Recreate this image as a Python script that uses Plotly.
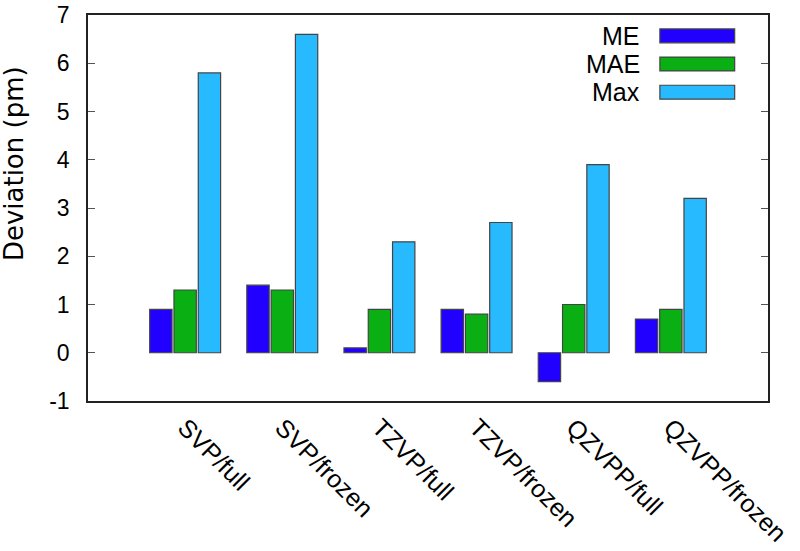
import plotly.graph_objects as go

categories = ["SVP/full", "SVP/frozen", "TZVP/full", "TZVP/frozen", "QZVPP/full", "QZVPP/frozen"]
series_names = ["ME", "MAE", "Max"]
me_values = [0.9, 1.4, 0.1, 0.9, -0.6, 0.7]
mae_values = [1.3, 1.3, 0.9, 0.8, 1.0, 0.9]
max_values = [5.8, 6.6, 2.3, 2.7, 3.9, 3.2]
y_ticks = [-1, 0, 1, 2, 3, 4, 5, 6, 7]
y_tick_labels = ["-1", "0", "1", "2", "3", "4", "5", "6", "7"]
y_title = "Deviation (pm)"

colors = ["#2200ff", "#0aaf14", "#28baff"]
FONT = "Liberation Sans, Arial, sans-serif"
FS = 23

x_pos = list(range(len(categories)))
fig = go.Figure()
for name, vals, col in zip(series_names, [me_values, mae_values, max_values], colors):
    fig.add_trace(go.Bar(
        x=x_pos, y=vals, name=name,
        marker=dict(color=col, line=dict(color="#444444", width=1.2)),
        showlegend=False,
    ))

# custom legend (text right-aligned, swatch on the right, gnuplot style)
leg_y = [0.946, 0.873, 0.800]
for name, col, yy in zip(series_names, colors, leg_y):
    fig.add_annotation(xref="paper", yref="paper", x=0.815, y=yy, text=name,
                       showarrow=False, xanchor="right", yanchor="middle",
                       font=dict(family=FONT, size=25, color="black"))
    fig.add_shape(type="rect", xref="paper", yref="paper",
                  x0=0.841, x1=0.951, y0=yy - 0.018, y1=yy + 0.018,
                  fillcolor=col, line=dict(color="#444444", width=1.2))

# y-axis title
fig.add_annotation(xref="paper", yref="paper", x=-0.109, y=0.616, text=y_title,
                   textangle=-90, showarrow=False, xanchor="center", yanchor="middle",
                   font=dict(family="DejaVu Sans, sans-serif", size=26, color="black"))

fig.update_layout(
    barmode="group", bargap=0.25, bargroupgap=0.08,
    width=800, height=551,
    margin=dict(l=88, r=32, t=15, b=150, autoexpand=False),
    plot_bgcolor="white", paper_bgcolor="white",
    font=dict(family=FONT, size=FS, color="black"),
)
fig.update_xaxes(
    range=[-1, 6], tickmode="array", tickvals=x_pos, ticktext=categories,
    tickangle=45, showline=True, mirror=True, linecolor="#222222", linewidth=2,
    ticks="", showgrid=False, zeroline=False, automargin=False,
    tickfont=dict(family=FONT, size=25),
)
fig.update_yaxes(
    range=[-1, 7], tickmode="array", tickvals=y_ticks, ticktext=y_tick_labels,
    ticks="inside", ticklen=7, tickcolor="#555555", tickwidth=1.2,
    showline=True, mirror="ticks", linecolor="#222222", linewidth=1.5,
    showgrid=False, zeroline=False, ticklabelstandoff=12, automargin=False,
    ticklabeloverflow="allow",
    tickfont=dict(family=FONT, size=FS),
)
fig.write_html("out.html")
